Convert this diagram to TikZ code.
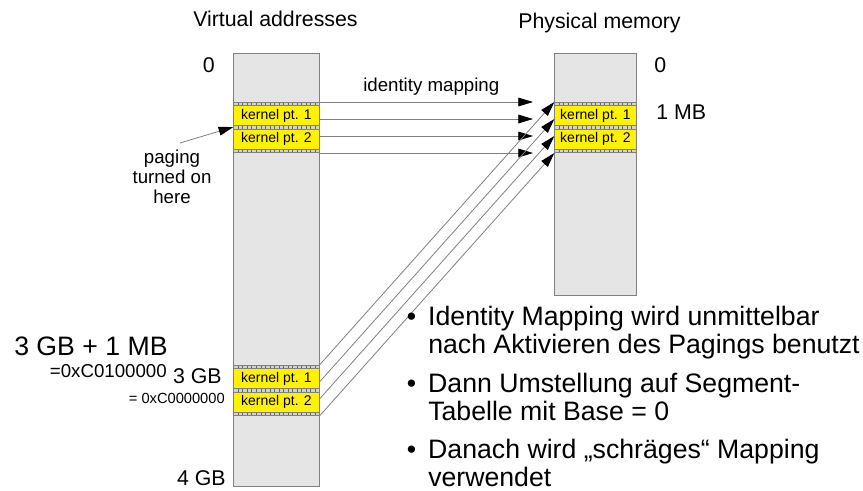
\documentclass[tikz,border=0pt]{standalone}
\usepackage{fontspec}
\setmainfont{Liberation Sans}
\usetikzlibrary{arrows.meta,positioning}

\definecolor{linegray}{RGB}{128,128,128}
\newcommand{\fs}[1]{\fontsize{#1}{1.2\dimexpr#1pt\relax}\selectfont}
\newcommand{\fsb}[2]{\fontsize{#1}{#2}\selectfont}

% one group of kernel page tables: strip, block, strip, block, strip
\newcommand{\kstack}[4]{%
  \node[strip, minimum width=#4, anchor=north west] (#1s1) at (#2.west |- 0,#3) {};
  \node[kblock, minimum width=#4, below=0pt of #1s1] (#1k1) {kernel pt. 1};
  \node[strip, minimum width=#4, below=0pt of #1k1] (#1s2) {};
  \node[kblock, minimum width=#4, below=0pt of #1s2] (#1k2) {kernel pt. 2};
  \node[strip, minimum width=#4, below=0pt of #1k2] (#1s3) {};
}

\tikzset{
  memcol/.style={draw=linegray, fill=gray!20, line width=0.6pt, inner sep=0pt, outer sep=0pt},
  kblock/.style={draw=linegray, fill=yellow, line width=0.5pt, inner sep=0pt, outer sep=0pt,
    minimum height=15pt, font=\fs{10.5}},
  strip/.style={draw=linegray, fill=gray!35, line width=0.4pt, inner sep=0pt, outer sep=0pt,
    minimum height=2.6pt,
    path picture={\draw[gray!80!black, line width=2.6pt, dash pattern=on 0.5pt off 2.9pt]
      (path picture bounding box.west) -- (path picture bounding box.east);}},
  lbl/.style={inner sep=0pt},
  bullet/.style={inner sep=0pt, anchor=base west, align=left, font=\fsb{20pt}{21pt}},
  maparrow/.style={draw=linegray, line width=0.6pt,
    -{Triangle[length=11pt,width=6.5pt,fill=black,color=black]}},
}

\begin{document}
\begin{tikzpicture}[x=0.75pt,y=-0.75pt]
\useasboundingbox (0,0) rectangle (863,490);

% the two memory columns
\node[memcol, minimum width=64.65pt, minimum height=324.5pt] (virt) at (276.4,269.65) {};
\node[memcol, minimum width=61.8pt, minimum height=181.3pt] (phys) at (595.5,174.15) {};

\kstack{vup}{virt}{102}{64.65pt}
\kstack{vlo}{virt}{365}{64.65pt}
\kstack{ph}{phys}{102}{61.8pt}

% titles and addresses
\node[lbl, anchor=base west, font=\fs{16}] (vtitle) at (193,26) {Virtual addresses};
\node[lbl, anchor=base west, font=\fs{16}] (ptitle) at (518,28) {Physical memory};
\node[lbl, anchor=base east, font=\fs{16}] (vzero) at (215,72) {0};
\node[lbl, anchor=base west, font=\fs{16}] (pzero) at (654,72) {0};
\node[lbl, anchor=base west, font=\fs{16}] (onemb) at (656,119) {1 MB};
\node[lbl, anchor=base west, font=\fs{14}] (idmap) at (363,91) {identity mapping};
\node[lbl, anchor=base, align=center, font=\fsb{14pt}{15pt}] (paging) at (172,203) {paging\\turned on\\here};

\node[lbl, anchor=base west, font=\fs{20}] (gbmb) at (14,355) {3 GB + 1 MB};
\node[lbl, anchor=base east, font=\fs{14}] (hexmb) at (167,377) {=0xC0100000};
\node[lbl, anchor=base east, font=\fs{16}] (threegb) at (222,383) {3 GB};
\node[lbl, anchor=base east, font=\fs{11}] (hexgb) at (225,403) {= 0xC0000000};
\node[lbl, anchor=base east, font=\fs{16}] (fourgb) at (226,485) {4 GB};

% identity mapping
\coordinate (idend) at (533,0);
\foreach \y in {102,119,136,153}
  \draw[maparrow] (virt.east |- 0,\y) -- (idend |- 0,\y);

% mapping of the kernel at 3 GB
\foreach \ya/\yb in {365/102,382/119,399/136,416/153}
  \draw[maparrow] (virt.east |- 0,\ya) -- (phys.west |- 0,\yb);

\coordinate (pagingfrom) at (180,143);
\draw[maparrow] (pagingfrom) -- (virt.west |- 0,127);

% bullet points (anchored on their last line)
\node[bullet] (item1) at (428,353)
  {\llap{•\hspace{9pt}}Identity Mapping wird unmittelbar\\nach Aktivieren des Pagings benutzt};
\node[bullet] (item2) at (428,420)
  {\llap{•\hspace{9pt}}Dann Umstellung auf Segment-\\Tabelle mit Base = 0};
\node[bullet] (item3) at (428,486)
  {\llap{•\hspace{9pt}}Danach wird „schräges“ Mapping\\verwendet};
\end{tikzpicture}
\end{document}
